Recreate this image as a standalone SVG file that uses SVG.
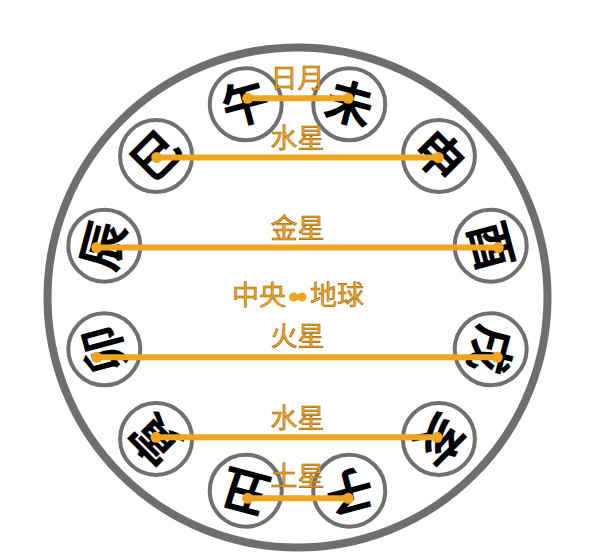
<svg xmlns="http://www.w3.org/2000/svg" width="600" height="555" viewBox="0 0 600 555">
<style>
.ring{fill:#ffffff;stroke:#6e6e6e;stroke-width:8}
.node circle{fill:#ffffff;stroke:#707070;stroke-width:4}
.node text{font-family:"Noto Sans CJK SC","Noto Sans CJK JP",sans-serif;font-weight:bold;font-size:48px;fill:#000000;text-anchor:middle}
.conn line{stroke:#efa51f;stroke-width:6}
.conn circle{fill:#efa51f}
.lbl{font-family:"Noto Sans CJK SC","Noto Sans CJK JP",sans-serif;font-size:27px;fill:#f2a520;stroke:#8a5500;stroke-width:0.5;text-anchor:middle}
</style>
<rect width="600" height="555" fill="#ffffff"/>
<circle class="ring" cx="297.5" cy="297.5" r="250"/>
<g id="node-wu" class="node" transform="translate(245.74,104.31)"><circle r="36"/><text y="17" transform="rotate(-15)">午</text></g>
<g id="node-wei" class="node" transform="translate(349.26,104.31)"><circle r="36"/><text y="17" transform="rotate(15)">未</text></g>
<g id="node-shen" class="node" transform="translate(438.92,156.08)"><circle r="36"/><text y="17" transform="rotate(45)">申</text></g>
<g id="node-you" class="node" transform="translate(490.69,245.74)"><circle r="36"/><text y="17" transform="rotate(75)">酉</text></g>
<g id="node-xu" class="node" transform="translate(490.69,349.26)"><circle r="36"/><text y="17" transform="rotate(105)">戌</text></g>
<g id="node-hai" class="node" transform="translate(438.92,438.92)"><circle r="36"/><text y="17" transform="rotate(135)">亥</text></g>
<g id="node-zi" class="node" transform="translate(349.26,490.69)"><circle r="36"/><text y="17" transform="rotate(165)">子</text></g>
<g id="node-chou" class="node" transform="translate(245.74,490.69)"><circle r="36"/><text y="17" transform="rotate(195)">丑</text></g>
<g id="node-yin" class="node" transform="translate(156.08,438.92)"><circle r="36"/><text y="17" transform="rotate(225)">寅</text></g>
<g id="node-mao" class="node" transform="translate(104.31,349.26)"><circle r="36"/><text y="17" transform="rotate(255)">卯</text></g>
<g id="node-chen" class="node" transform="translate(104.31,245.74)"><circle r="36"/><text y="17" transform="rotate(285)">辰</text></g>
<g id="node-si" class="node" transform="translate(156.08,156.08)"><circle r="36"/><text y="17" transform="rotate(315)">巳</text></g>
<g id="connectors" class="conn">
<line x1="247.7" y1="98.3" x2="348.3" y2="98.3"/><circle cx="247.7" cy="98.3" r="5.5"/><circle cx="348.3" cy="98.3" r="5.5"/>
<line x1="156.7" y1="157.5" x2="438.3" y2="157.5"/><circle cx="156.7" cy="157.5" r="5.5"/><circle cx="438.3" cy="157.5" r="5.5"/>
<line x1="96.7" y1="247.5" x2="498.3" y2="247.5"/><circle cx="96.7" cy="247.5" r="5.5"/><circle cx="498.3" cy="247.5" r="5.5"/>
<line x1="293.5" y1="297" x2="302" y2="297"/><circle cx="293.5" cy="297" r="4.5"/><circle cx="302" cy="297" r="4.5"/>
<line x1="96.7" y1="357.3" x2="497.3" y2="357.3"/><circle cx="96.7" cy="357.3" r="5.5"/><circle cx="497.3" cy="357.3" r="5.5"/>
<line x1="156" y1="437.3" x2="437.3" y2="437.3"/><circle cx="156" cy="437.3" r="5.5"/><circle cx="437.3" cy="437.3" r="5.5"/>
<line x1="247.7" y1="498.3" x2="348.3" y2="498.3"/><circle cx="247.7" cy="498.3" r="5.5"/><circle cx="348.3" cy="498.3" r="5.5"/>
</g>
<g id="labels">
<text class="lbl" x="297.5" y="88">日月</text>
<text class="lbl" x="297.5" y="148">水星</text>
<text class="lbl" x="297.5" y="238">金星</text>
<text class="lbl" x="259" y="305">中央</text>
<text class="lbl" x="337" y="305">地球</text>
<text class="lbl" x="297.5" y="346">火星</text>
<text class="lbl" x="297.5" y="428">水星</text>
<text class="lbl" x="297.5" y="486">土星</text>
</g>
</svg>
